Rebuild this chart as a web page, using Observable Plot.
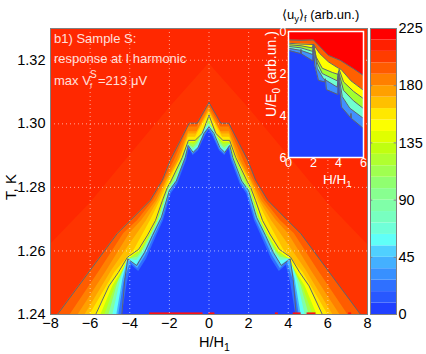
<!DOCTYPE html>
<html><head><meta charset="utf-8">
<script src="https://cdn.jsdelivr.net/npm/d3@7"></script>
<script src="https://cdn.jsdelivr.net/npm/@observablehq/plot@0.6"></script>
<style>
html,body{margin:0;padding:0;background:#fff}
#wrap{position:relative;width:426px;height:354px;overflow:hidden;font-family:"Liberation Sans",Arial,sans-serif}
#wrap svg{position:absolute;left:0;top:0;background:transparent}
.t{position:absolute;white-space:nowrap;line-height:1;font-size:14.5px;color:#000}
.w{color:#fff}
.r{transform:translate(-50%,-50%) rotate(-90deg)}
.sub{font-size:.72em;position:relative;top:.35em}
</style></head><body><div id="wrap"></div>
<script>
// colour bands of the colour bar, 9 units each
const bandLow=[0,9,18,27,36,45,54,63,72,81,90,99,108,117,126,135,144,153,162,171,180,189,198,207,216];
const bandColors=["#2040ff","#2858ff","#2f70ff","#3890ff","#44b0ff","#50d0ff","#60fff8","#70ffd8","#78ffc0","#80ffa8","#88ff90","#90ff70","#a0ff50","#b0ff30","#c0ff10","#e0ff00","#fcff00","#ffe800","#ffc000","#ffa000","#ff8000","#ff5c00","#ff3c00","#ff2000","#ff0000"];
const farColor="#ff2800";
const nearColor="#ff3400";
const barTicks=[0,45,90,135,180,225];
const xTicks=[-8,-6,-4,-2,0,2,4,6,8];
const tTicks=[1.24,1.26,1.28,1.30,1.32];
const insetTicks=[0,2,4,6];

// level boundaries of the main map, [T, |H|]
const c207=[[1.24,11],[1.262,8],[1.275,6],[1.29,4],[1.305,2],[1.319,0]];
const c198=[[1.24,7.65],[1.2539,6.0],[1.2655,4.63],[1.2696,3.97],[1.2759,2.97],[1.2822,2.36],[1.2885,1.96],[1.3002,1.0],[1.3002,.6],[1.3067,0]];
const c189=[[1.24,7.0],[1.2539,5.5],[1.2655,4.3],[1.2696,3.6],[1.2759,2.8],[1.2822,2.25],[1.2885,1.75],[1.299,1.02],[1.299,.6],[1.3055,0]];
const c180=[[1.24,6.6],[1.2539,5.15],[1.2655,4.0],[1.2696,3.4],[1.2759,2.65],[1.2822,2.15],[1.2885,1.6],[1.2975,1.03],[1.2975,.6],[1.3047,0]];
const c171=[[1.24,6.25],[1.2539,4.9],[1.2625,3.95],[1.2696,3.15],[1.2759,2.55],[1.2822,2.1],[1.2885,1.5],[1.2968,1.03],[1.2968,.65],[1.304,0]];
const c162=[[1.24,6.0],[1.2532,4.75],[1.2605,3.75],[1.2696,2.95],[1.2759,2.45],[1.2816,2.05],[1.2894,1.42],[1.2958,1.04],[1.2958,.68],[1.3033,0]];
const c153=[[1.24,5.72],[1.249,5.05],[1.2532,4.58],[1.258,4.12],[1.2605,3.55],[1.265,3.1],[1.2696,2.7],[1.2759,2.35],[1.28,2.1],[1.2816,1.95],[1.2894,1.35],[1.2948,1.04],[1.2948,.7],[1.297,.34],[1.3027,0]];
const c135=[[1.24,5.45],[1.249,4.85],[1.2532,4.42],[1.2575,4.05],[1.26,3.5],[1.265,3.0],[1.2696,2.62],[1.2759,2.3],[1.28,2.07],[1.2816,1.92],[1.2894,1.32],[1.2942,1.04],[1.2942,.72],[1.2965,.32],[1.3018,0]];
const c117=[[1.24,5.25],[1.249,4.72],[1.2532,4.3],[1.2575,4.0],[1.2595,3.45],[1.265,2.95],[1.2696,2.56],[1.2759,2.24],[1.28,2.03],[1.2816,1.88],[1.2894,1.29],[1.2938,1.05],[1.2936,.74],[1.296,.3],[1.3012,0]];
const c90=[[1.24,5.05],[1.25,4.6],[1.2575,4.05],[1.258,3.6],[1.26,3.35],[1.265,2.92],[1.2706,2.5],[1.279,2.08],[1.282,1.74],[1.2894,1.25],[1.2935,1.05],[1.2925,.78],[1.2938,.58],[1.298,.28],[1.3,0]];
const c63=[[1.24,4.85],[1.251,4.45],[1.2575,4.1],[1.257,3.65],[1.2595,3.3],[1.2649,2.87],[1.2706,2.43],[1.279,2.02],[1.282,1.68],[1.2894,1.22],[1.2935,1.06],[1.2918,.8],[1.2932,.56],[1.2975,.26],[1.2995,0]];
const c45=[[1.24,4.65],[1.251,4.35],[1.2575,4.08],[1.2555,3.65],[1.2595,3.25],[1.2649,2.85],[1.2706,2.4],[1.279,2.0],[1.282,1.65],[1.2894,1.2],[1.2932,1.05],[1.291,.8],[1.2925,.55],[1.297,.25],[1.299,0]];
const c27=[[1.24,4.55],[1.25,4.3],[1.2565,3.95],[1.2545,3.6],[1.2585,3.2],[1.264,2.8],[1.27,2.35],[1.2785,1.95],[1.2815,1.62],[1.289,1.17],[1.2927,1.03],[1.2905,.8],[1.292,.55],[1.2965,.23],[1.2987,0]];
const c9=[[1.24,4.38],[1.25,4.12],[1.2555,3.9],[1.2535,3.55],[1.2575,3.15],[1.2632,2.75],[1.2695,2.3],[1.278,1.9],[1.281,1.58],[1.2885,1.13],[1.2922,1.0],[1.29,.8],[1.2915,.53],[1.296,.2],[1.298,0]];
const levels=[198,189,180,171,162,153,135,117,90,63,45,27,9];
const levelRows=[c198,c189,c180,c171,c162,c153,c135,c117,c90,c63,c45,c27,c9];

// drawn contour lines
const outerLine=c198;
const middleLine=c153;
const innerLine=[[1.24,4.4],[1.251,4.25],[1.2575,4.1],[1.2554,3.65],[1.2595,3.25],[1.2649,2.85],[1.2706,2.4],[1.279,2.0],[1.282,1.65],[1.2894,1.2],[1.2932,1.05],[1.291,.8],[1.2925,.55],[1.297,.25],[1.299,0]];

// red specks along the bottom edge, H from / to
const speckFrom=[-3,0,3.35,4.25,4.95,7.05];
const speckTo=[-.3,.3,3.5,4.65,5.4,7.2];

// inset level boundaries, [H, U/E0]
const b1=[[0,.4],[1,.42],[2,.4],[2.1,.47],[3.2,1.14],[4.16,1.38],[5.2,1.77],[6,2.1]];
const b2=[[0,.56],[1,.6],[2,.62],[2.5,1.05],[3.2,1.45],[4,1.75],[4.2,1.8],[5,2.35],[6,2.8]];
const b3=[[0,.63],[1,.68],[1.9,.78],[2,.6],[2.2,1.2],[2.7,1.75],[3.5,1.95],[4,2.05],[4.05,1.8],[4.4,2.4],[5.2,2.85],[6,3.2]];
const b4=[[0,.71],[1,.78],[1.95,.95],[2,.6],[2.3,1.5],[2.7,2.0],[3.9,2.35],[4,1.9],[4.4,2.8],[5.2,3.3],[6,3.67]];
const b5=[[0,.8],[1,.9],[1.95,1.1],[2,.6],[2.3,1.75],[2.8,2.25],[3.9,2.65],[4,1.95],[4.3,3.1],[4.9,3.65],[6,4.14]];
const b6=[[0,.9],[.95,1.05],[1,.85],[1.05,1.07],[1.95,1.4],[2,.6],[2.1,1.6],[2.4,2.33],[2.9,2.4],[2.95,2.25],[3.04,2.77],[3.95,3.0],[4,2.0],[4.24,3.6],[4.96,4.1],[5,3.9],[5.05,4.15],[6,4.62]];
const insetRows=[b1,b2,b3,b4,b5,b6];
const insetColors=["#ff6000","#ffff00","#a0ff30","#70ffd0","#4090ff","#2040ff"];

const wrap=document.getElementById("wrap");
const FONT='"Liberation Sans",Arial,sans-serif';
const base={width:426,height:354,style:{background:"transparent",fontFamily:FONT,fontSize:"14.5px",color:"#000"}};
const both=rows=>[...rows.map(([T,H])=>({T,H:-H})).reverse(),...rows.map(([T,H])=>({T,H}))];
const contourLine=rows=>Plot.line(both(rows),{x:"H",y:"T",stroke:"#5f6470",strokeWidth:1,clip:true});
const lens=(rows,fill)=>Plot.areaX(rows,{y:d=>d[0],x1:d=>-d[1],x2:d=>d[1],fill,clip:true});

const main=Plot.plot({...base,marginLeft:50,marginRight:59,marginTop:28,marginBottom:40,
  x:{domain:[-8,8]},y:{domain:[1.24,1.33]},
  marks:[
    Plot.frame({fill:farColor}),
    lens(c207,nearColor),
    ...levelRows.map((rows,i)=>lens(rows,bandColors[levels[i]/9-1])),
    contourLine(outerLine),contourLine(middleLine),contourLine(innerLine),
    Plot.rect(speckFrom.map((a,i)=>({a,b:speckTo[i]})),{x1:"a",x2:"b",y1:1.24,y2:1.2405,fill:"#ff1010",inset:0}),
    Plot.gridX(xTicks.slice(1,-1),{stroke:"#fff",strokeOpacity:.6,strokeDasharray:"1,3"}),
    Plot.gridY(tTicks.slice(1),{stroke:"#fff",strokeOpacity:.6,strokeDasharray:"1,3"}),
    Plot.frame({stroke:"#808080",strokeWidth:1}),
    Plot.axisX({ticks:xTicks,tickSize:0,tickPadding:3,label:null,fontSize:14.5}),
    Plot.axisY({ticks:tTicks,tickSize:0,tickPadding:5,label:null,fontSize:14.5,tickFormat:d3.format(".2f")})
  ]});
wrap.append(main);

const inset=Plot.plot({...base,marginLeft:288,marginRight:63,marginTop:31,marginBottom:197,
  x:{domain:[0,6]},y:{domain:[0,6],reverse:true},
  marks:[
    Plot.frame({fill:"#ff0000"}),
    ...insetRows.map((rows,i)=>Plot.areaY(rows,{x:d=>d[0],y1:d=>d[1],y2:6,fill:insetColors[i]})),
    ...insetRows.map(rows=>Plot.line(rows,{x:d=>d[0],y:d=>d[1],stroke:"#5f6470",strokeWidth:1})),
    Plot.frame({stroke:"#fff",strokeWidth:1.5}),
    Plot.axisX({ticks:insetTicks,tickSize:0,tickPadding:1,label:null,fill:"#fff",fontSize:12.5,tickFormat:d3.format("d")}),
    Plot.axisY({ticks:insetTicks,tickSize:0,tickPadding:2,label:null,fill:"#fff",fontSize:12.5,tickFormat:d3.format("d")})
  ]});
wrap.append(inset);

const bar=Plot.plot({...base,marginLeft:370,marginRight:30,marginTop:28,marginBottom:40,
  x:{domain:[0,1],axis:null},y:{domain:[0,225]},
  marks:[
    Plot.rect(bandLow.map((lo,i)=>({lo,hi:lo+9,c:bandColors[i]})),{x1:0,x2:1,y1:"lo",y2:"hi",fill:"c",inset:0}),
    Plot.ruleY(barTicks.slice(1,-1),{x1:0,x2:.09,stroke:"#808080"}),
    Plot.ruleY(barTicks.slice(1,-1),{x1:.91,x2:1,stroke:"#808080"}),
    Plot.frame({stroke:"#808080",strokeWidth:1}),
    Plot.axisY({anchor:"right",ticks:barTicks,tickSize:0,tickPadding:2,label:null,fontSize:14.5})
  ]});
wrap.append(bar);

const add=(html,css,cls="")=>{const d=document.createElement("div");d.className="t "+cls;d.innerHTML=html;d.style.cssText=css;wrap.append(d)};
add('b1) Sample S:','left:54px;top:32px;font-size:13px;opacity:.85','w');
add('response at I harmonic','left:54px;top:52px;font-size:13px;opacity:.85','w');
add('max V','left:54px;top:74px;font-size:13px;opacity:.85','w');
add('S','left:90px;top:70px;font-size:10px;opacity:.85','w');
add('f','left:90px;top:82px;font-size:8px;opacity:.85','w');
add('=213 μV','left:98px;top:74px;font-size:13px;opacity:.85','w');
add('T, K','left:10px;top:187px;font-size:15px','r');
add('H/H<span class="sub">1</span>','left:199px;top:335px;font-size:14.5px');
add('⟨u<span class="sub">y</span>⟩<span class="sub">f</span> (arb.un.)','left:282px;top:8px;font-size:13px');
add('U/E<span class="sub">0</span> (arb.un.)','left:271px;top:74px;font-size:14px','w r');
add('H/H<span class="sub">1</span>','left:323px;top:173px;font-size:13.5px','w');
</script></body></html>
